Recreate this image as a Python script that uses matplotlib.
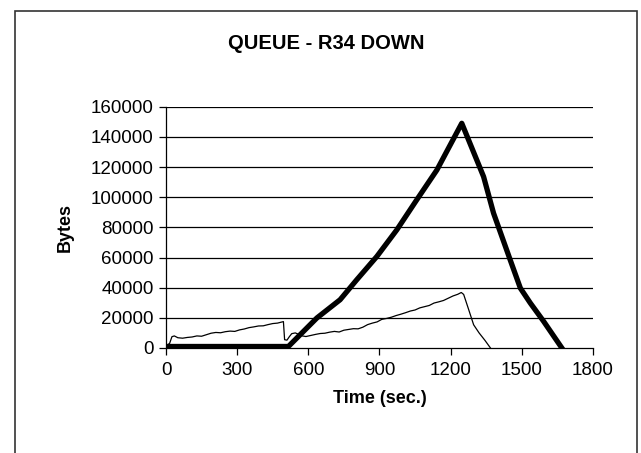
import matplotlib.pyplot as plt
from matplotlib.patches import Rectangle

plt.rcParams['font.family'] = ['Liberation Sans', 'DejaVu Sans']

# Thick series (queue 1)
t_thick = [0, 516, 636, 734, 804, 889, 973, 1057, 1142, 1247,
           1339, 1381, 1451, 1494, 1536, 1592, 1669]
q_thick = [1000, 1000, 19900, 32000, 45200, 60700, 78300, 98200, 118000, 149000,
           113600, 89400, 58500, 39700, 29800, 17700, 0]

# Thin series (queue 2)
t_thin = [0, 15, 25, 35, 50, 70, 90, 110, 130, 150, 170, 190, 210, 230, 250,
          270, 290, 310, 330, 350, 370, 390, 410, 430, 450, 470, 495, 500,
          510, 520, 530, 545, 560, 575, 590, 610, 630, 650, 670, 690, 710,
          730, 750, 770, 790, 810, 830, 850, 870, 890, 910, 930, 950, 970,
          990, 1010, 1030, 1050, 1070, 1090, 1110, 1130, 1150, 1170, 1190,
          1210, 1230, 1245, 1255, 1275, 1297, 1320, 1345, 1368]
q_thin = [1500, 3000, 7500, 8000, 6800, 6500, 7000, 7300, 8000, 7800, 8800,
          9800, 10300, 10100, 10800, 11200, 11000, 12000, 12600, 13500, 14000,
          14600, 14700, 15500, 16200, 16500, 17500, 5500, 5200, 7500, 9500,
          10000, 9000, 8000, 7600, 8300, 9000, 9600, 9800, 10500, 11000, 10600,
          11800, 12300, 12800, 12700, 13800, 15500, 16500, 17300, 19000, 19600,
          20400, 21500, 22400, 23400, 24500, 25200, 26600, 27400, 28200, 29800,
          30600, 31500, 33000, 34500, 35600, 36800, 35500, 26000, 15400, 10000,
          5000, 0]

x_ticks = [0, 300, 600, 900, 1200, 1500, 1800]
y_ticks = [0, 20000, 40000, 60000, 80000, 100000, 120000, 140000, 160000]

fig = plt.figure(figsize=(6.41, 4.53), dpi=100)
ax = fig.add_axes([0.259, 0.2318, 0.666, 0.5327])

for y in y_ticks[1:]:
    ax.axhline(y, color='black', linewidth=0.9, zorder=1)

ax.plot(t_thin, q_thin, color='black', linewidth=0.9, zorder=3)
ax.plot(t_thick, q_thick, color='black', linewidth=3.8, zorder=4,
        solid_joinstyle='round')

ax.set_xlim(0, 1800)
ax.set_ylim(0, 160000)
ax.set_xticks(x_ticks)
ax.set_yticks(y_ticks)
ax.tick_params(direction='out', length=5, width=0.9, labelsize=13.5)
ax.tick_params(axis='x', pad=5)
ax.tick_params(axis='y', pad=4)

for side in ['top', 'right']:
    ax.spines[side].set_visible(False)
for side in ['left', 'bottom']:
    ax.spines[side].set_linewidth(0.9)

ax.set_xlabel('Time (sec.)', fontsize=13, fontweight='bold', labelpad=8)
ax.set_ylabel('Bytes', fontsize=13, fontweight='bold', labelpad=12)
fig.text(0.509, 0.905, 'QUEUE - R34 DOWN', fontsize=14.5, fontweight='bold',
         ha='center', va='center')

# chart area border
fig.patches.append(Rectangle((15 / 641, -0.05), 622 / 641, 1.05 - 11 / 453,
                             transform=fig.transFigure, fill=False,
                             edgecolor='#333333', linewidth=1.2))

fig.savefig('out.png', dpi=100)
